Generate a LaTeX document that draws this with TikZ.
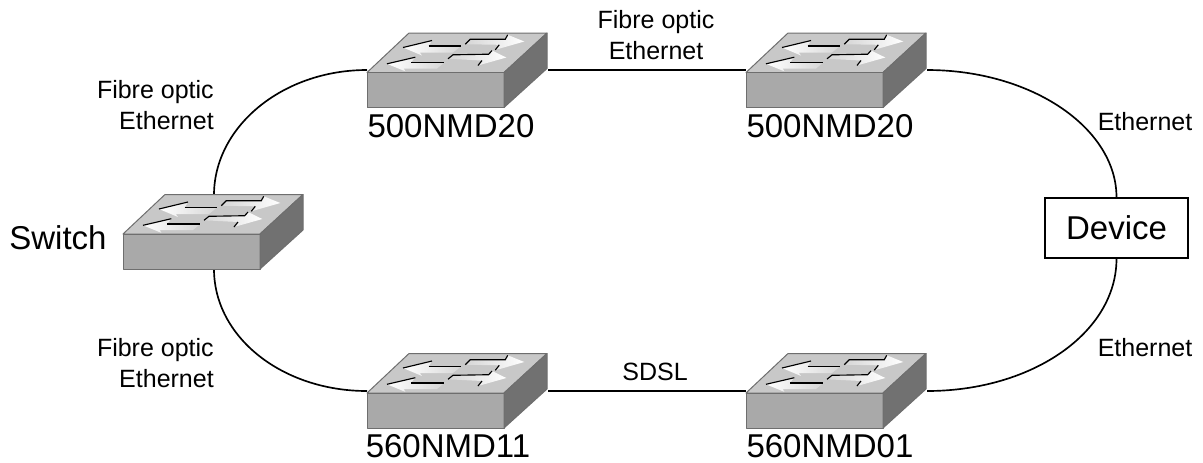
\documentclass[tikz,border=0pt]{standalone}
\usepackage{fontspec}
\setmainfont{Liberation Sans}
\definecolor{swtop}{HTML}{C8C8C8}
\definecolor{swfront}{HTML}{A9A9A9}
\definecolor{swside}{HTML}{717171}
\definecolor{swedge}{HTML}{6E6E6E}
\tikzset{
  link/.style={draw=black,line width=1.25pt},
  small/.style={inner sep=0pt,font=\fontsize{18.75pt}{23.25pt}\selectfont},
  big/.style={inner sep=0pt,anchor=base,font=\fontsize{24.75pt}{29pt}\selectfont},
  devbox/.style={draw=black,line width=1.45pt,fill=white,minimum width=107.6pt,minimum height=44.6pt,inner sep=0pt,font=\fontsize{24.75pt}{29pt}\selectfont},
  leftfade/.style={left color=white,middle color=white,right color=white!25!swtop},
  rightfade/.style={left color=white!25!swtop,middle color=white,right color=white},
  arrowline/.style={draw=black,line width=0.85pt,line join=miter},
  switchbox/.pic={
    \filldraw[fill=swtop,draw=swedge,line width=0.75pt,line join=round] (0,0) -- (42,-39.5) -- (180,-39.5) -- (137,0) -- cycle;
    \filldraw[fill=swfront,draw=swedge,line width=0.75pt,line join=round] (0,0) -- (137,0) -- (137,35) -- (0,35) -- cycle;
    \filldraw[fill=swside,draw=swedge,line width=0.75pt,line join=round] (137,0) -- (180,-39.5) -- (180,-4) -- (137,35) -- cycle;
    % left-pointing upper arrow
    \shade[leftfade] (36,-25) -- (65,-32) -- (61.7,-26.5) -- (94,-26.5) -- (86,-20) -- (52.7,-20) -- (55,-17) -- cycle;
    \draw[arrowline] (36,-25) -- (65,-32);
    \draw[arrowline] (61.7,-26.5) -- (94,-26.5);
    % left-pointing lower arrow
    \shade[leftfade] (20,-8.7) -- (48.3,-15.3) -- (44,-10) -- (77.3,-10) -- (70,-4) -- (36.7,-4) -- (38.3,-1.2) -- cycle;
    \draw[arrowline] (20,-8.7) -- (48.3,-15.3);
    \draw[arrowline] (44,-10) -- (77.3,-10);
    % right-pointing upper arrow
    \shade[rightfade] (98.3,-28.3) -- (103.3,-33.3) -- (138.3,-33.3) -- (140.7,-37.7) -- (157.3,-31) -- (128.3,-22.7) -- (132.3,-27.7) -- cycle;
    \draw[arrowline] (98.3,-28.3) -- (103.3,-33.3) -- (138.3,-33.3) -- (140.7,-37.7);
    \draw[arrowline] (128.3,-22.7) -- (132.3,-27.7);
    % right-pointing lower arrow
    \shade[rightfade] (81,-13.7) -- (86,-17.7) -- (121.7,-18.3) -- (125,-22) -- (139.3,-15) -- (111,-7) -- (115,-12) -- cycle;
    \draw[arrowline] (81,-13.7) -- (86,-17.7) -- (121.7,-18.3) -- (125,-22);
    \draw[arrowline] (111,-7) -- (115,-12);
  }
}
\begin{document}
\begin{tikzpicture}[x=0.75pt,y=-0.75pt]
\useasboundingbox (0,0) rectangle (1203,462);
\coordinate (swAt) at (214,195);
\coordinate (swAb) at (214,269);
\coordinate (tlL) at (367,70);
\coordinate (tlR) at (548,70);
\coordinate (trL) at (746,70);
\coordinate (trR) at (927,70);
\coordinate (blL) at (367,391);
\coordinate (blR) at (548,391);
\coordinate (brL) at (746,391);
\coordinate (brR) at (927,391);
\node[devbox] (dev) at (1116.5,228) {Device};
\draw[link] (swAt) .. controls +(0,-68) and +(-85,0) .. (tlL);
\draw[link] (tlR) -- (trL);
\draw[link] (trR) .. controls +(105,0) and +(0,-69) .. (dev.north);
\draw[link] (swAb) .. controls +(0,68) and +(-85,0) .. (blL);
\draw[link] (blR) -- (brL);
\draw[link] (brR) .. controls +(105,0) and +(0,74) .. (dev.south);
\pic (sw0) at (123,234) {switchbox};
\pic (sw1) at (367,72.5) {switchbox};
\pic (sw2) at (746,72.5) {switchbox};
\pic (sw3) at (367,393) {switchbox};
\pic (sw4) at (746,393) {switchbox};
\node[big] (n0) at (58,249) {Switch};
\node[big] (n1) at (451,137.5) {500NMD20};
\node[big] (n2) at (830,137.5) {500NMD20};
\node[big] (n3) at (448,457) {560NMD11};
\node[big] (n4) at (830,457) {560NMD01};
\node[small,align=right,anchor=east] (l1) at (214,105) {Fibre optic\\Ethernet};
\node[small,align=center] (l2) at (656,35.5) {Fibre optic\\Ethernet};
\node[small,align=right,anchor=east] (l3) at (214,363.5) {Fibre optic\\Ethernet};
\node[small] (l4) at (1145,122) {Ethernet};
\node[small] (l5) at (1145,348) {Ethernet};
\node[small] (l6) at (655,372) {SDSL};
\end{tikzpicture}
\end{document}
